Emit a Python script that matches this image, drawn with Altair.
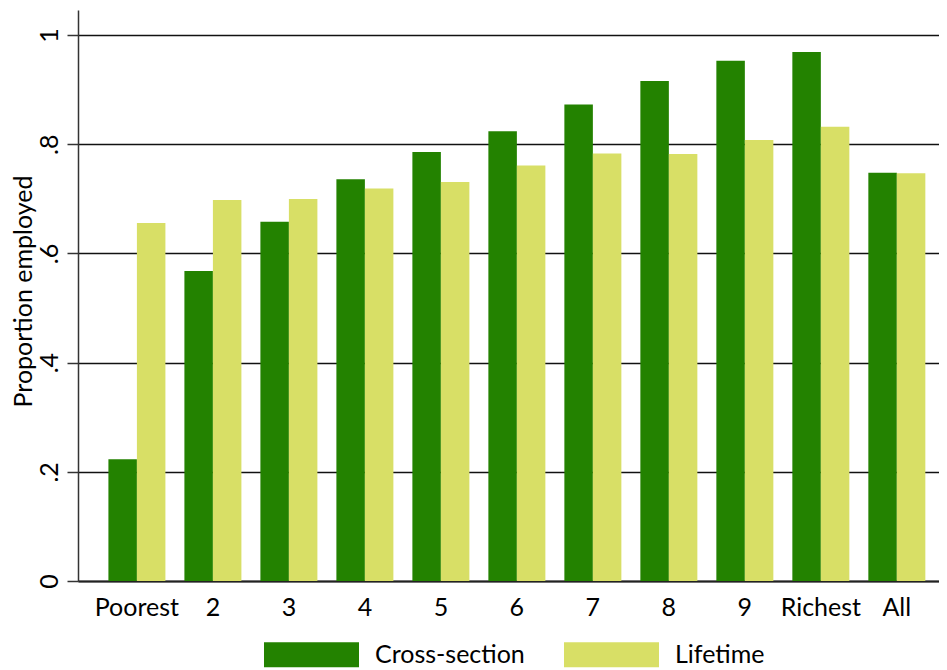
import altair as alt
import pandas as pd

# Deciles of wealth, plus the whole sample
categories = ["Poorest", "2", "3", "4", "5", "6", "7", "8", "9", "Richest", "All"]
series = ["Cross-section", "Lifetime"]
cross_section = [0.223, 0.568, 0.658, 0.736, 0.786, 0.824, 0.873, 0.916, 0.953, 0.969, 0.748]
lifetime = [0.656, 0.698, 0.700, 0.719, 0.731, 0.761, 0.783, 0.782, 0.808, 0.832, 0.747]
y_ticks = [0, 0.2, 0.4, 0.6, 0.8, 1]
colors = ["#238200", "#d8df66"]

rows = []
for cat, cs, lt in zip(categories, cross_section, lifetime):
    rows.append({"group": cat, "series": series[0], "value": cs})
    rows.append({"group": cat, "series": series[1], "value": lt})
data = pd.DataFrame(rows)

FONT = "Lato"

# wide legend swatch: path is 3.8x wider than tall, laid out as a 25px symbol
swatch = "M-3.8,-1H3.8V1H-3.8Z"

chart = alt.Chart(data).mark_bar(stroke=None).encode(
    x=alt.X("group:N", sort=categories,
            scale=alt.Scale(paddingInner=0.25, paddingOuter=0.29, align=0.69),
            axis=alt.Axis(title=None, labelAngle=0, ticks=False, tickSize=0,
                          labelPadding=34, labelBaseline="alphabetic",
                          labelFont=FONT, labelFontSize=25, labelColor="black",
                          domainColor="#222222", domainWidth=2)),
    xOffset=alt.XOffset("series:N", sort=series),
    y=alt.Y("value:Q",
            scale=alt.Scale(domain=[0, 1.046], nice=False, zero=True),
            axis=alt.Axis(values=y_ticks, title="Proportion employed",
                          labelExpr="datum.value == 0 ? '0' : datum.value == 1 ? '1' : '.' + round(datum.value * 10)",
                          labelAngle=270, labelAlign="center", labelBaseline="alphabetic",
                          labelFont=FONT, labelFontSize=25, labelColor="black",
                          labelPadding=10, tickSize=11, tickColor="#333333", tickWidth=1.5,
                          domainColor="#333333", domainWidth=1.5,
                          grid=True, gridColor="#111111", gridWidth=1.3,
                          titleFont=FONT, titleFontSize=25, titleFontWeight="normal",
                          titleColor="black", titleAngle=270, titleAlign="center",
                          titleBaseline="alphabetic", titleX=-47, titleY=281)),
    color=alt.Color("series:N",
                    scale=alt.Scale(domain=series, range=colors),
                    legend=alt.Legend(title=None, orient="none", direction="horizontal",
                                      legendX=221, legendY=632, padding=0,
                                      symbolType=swatch, symbolSize=625,
                                      symbolStrokeWidth=0, symbolOpacity=1,
                                      labelFont=FONT, labelFontSize=25, labelColor="black",
                                      labelOffset=51, columnPadding=39)),
).properties(
    width=861,
    height=571,
    autosize=alt.AutoSizeParams(type="none"),
    padding={"left": 70, "top": 2, "right": 0, "bottom": 89},
).configure_view(
    stroke=None
)

chart.save("out.html", embed_options={"renderer": "svg", "actions": False})
